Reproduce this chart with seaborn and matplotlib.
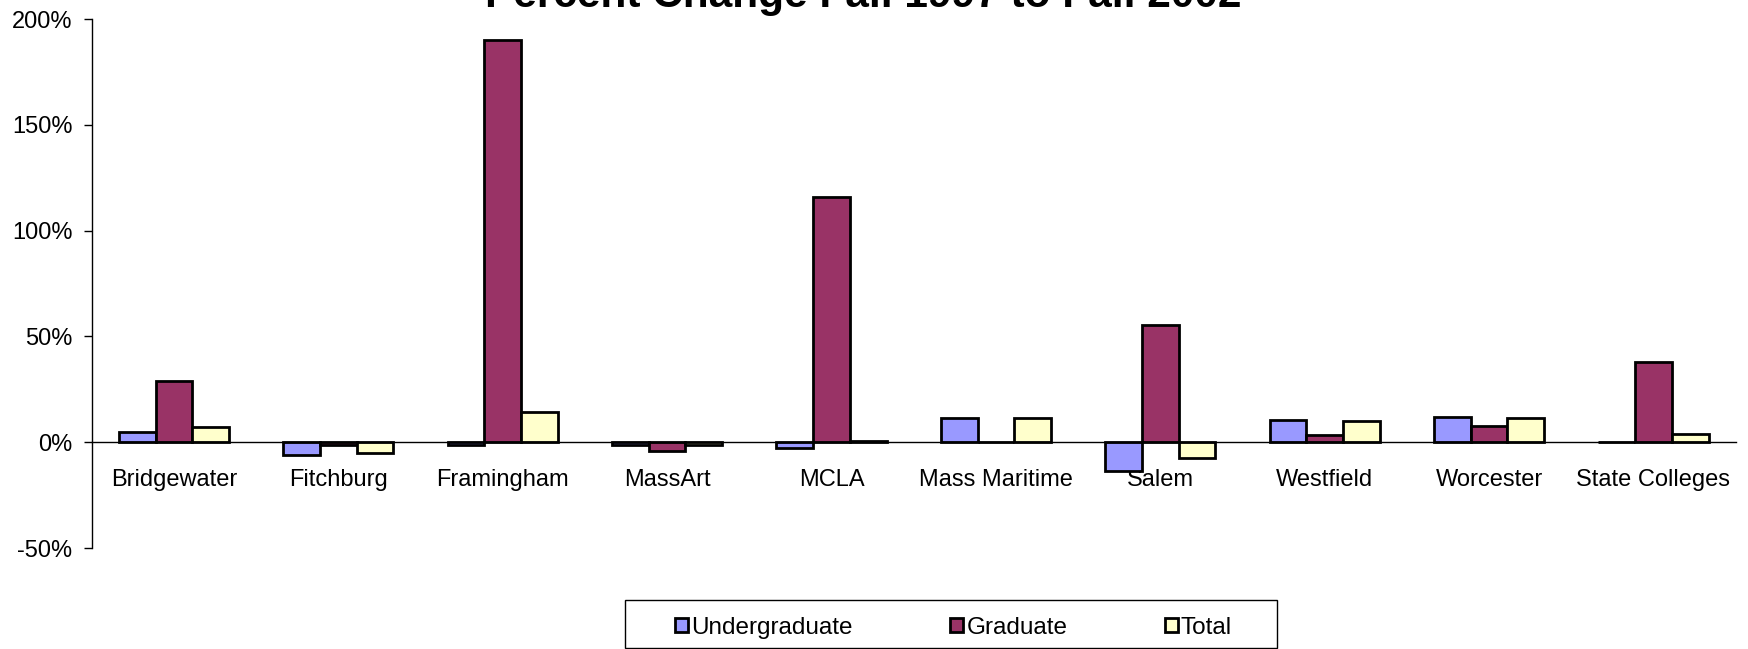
import pandas as pd
import matplotlib
matplotlib.use('Agg')
import matplotlib.pyplot as plt
import seaborn as sns
from matplotlib.ticker import FuncFormatter, FixedLocator
from matplotlib.patches import Rectangle

# Данные
colleges = ['Bridgewater', 'Fitchburg', 'Framingham', 'MassArt', 'MCLA',
            'Mass Maritime', 'Salem', 'Westfield', 'Worcester', 'State Colleges']
undergrad = [5.0, -5.9, -1.2, -1.2, -2.7, 11.5, -13.4, 10.5, 12.0, 0.3]
graduate = [28.8, -1.2, 190.0, -4.3, 115.8, 0.0, 55.2, 3.3, 7.7, 37.8]
total = [7.4, -4.9, 14.1, -1.2, 0.8, 11.5, -7.3, 10.1, 11.5, 4.1]
series = ['Undergraduate', 'Graduate', 'Total']
colors = ['#9999FF', '#993366', '#FFFFCC']

df = pd.DataFrame({
    'college': colleges * 3,
    'level': [s for s in series for _ in colleges],
    'change': undergrad + graduate + total,
})

sns.set_style('white')
plt.rcParams['font.family'] = ['Liberation Sans', 'DejaVu Sans']
plt.rcParams['text.color'] = 'black'
plt.rcParams['xtick.color'] = 'black'
plt.rcParams['ytick.color'] = 'black'

fig = plt.figure(figsize=(17.48, 6.49), dpi=100)
ax = fig.add_axes([0.05246, 0.1556, 0.9405, 0.8151])

sns.barplot(data=df, x='college', y='change', hue='level', order=colleges,
            hue_order=series, palette=colors, errorbar=None, width=0.67,
            edgecolor='black', linewidth=2, saturation=1, ax=ax)

handles, labels = ax.get_legend_handles_labels()
ax.legend_.remove()

ax.set_xlim(-0.5, 9.5)
ax.set_ylim(-50, 200)
ax.set_yticks(range(-50, 201, 50))
ax.yaxis.set_major_formatter(FuncFormatter(lambda v, p: f'{v:.0f}%'))
ax.set_xlabel('')
ax.set_ylabel('')

for s in ['top', 'right']:
    ax.spines[s].set_visible(False)
ax.spines['bottom'].set_position(('data', 0))
ax.spines['left'].set_color('black')
ax.spines['bottom'].set_color('black')
ax.spines['left'].set_linewidth(1)
ax.spines['bottom'].set_linewidth(1)

ax.xaxis.set_minor_locator(FixedLocator([i + 0.5 for i in range(10)]))
ax.tick_params(axis='x', which='major', length=0, pad=19, labelsize=17, labelcolor='black')
ax.tick_params(axis='x', which='minor', direction='out', length=5.8, width=1, color='black')
ax.tick_params(axis='y', direction='out', length=5.8, width=1, color='black', pad=8,
               labelsize=17, labelcolor='black', left=True)

fig.text(0.494, 0.989, 'Percent Change Fall 1997 to Fall 2002', ha='center', va='baseline',
         fontsize=30.5, fontweight='bold', color='black')

# Легенда
fig.legend(handles, labels, loc='center', bbox_to_anchor=(0.5455, 0.033), ncol=3,
           frameon=False, fontsize=17.5, handlelength=0.55, handleheight=0.55,
           handletextpad=0.12, columnspacing=4.0, labelcolor='black')
fig.patches.append(Rectangle((0.3576, 0.0015), 0.373, 0.074, transform=fig.transFigure,
                             fill=False, edgecolor='black', linewidth=1))

fig.savefig('out.png', dpi=100)
